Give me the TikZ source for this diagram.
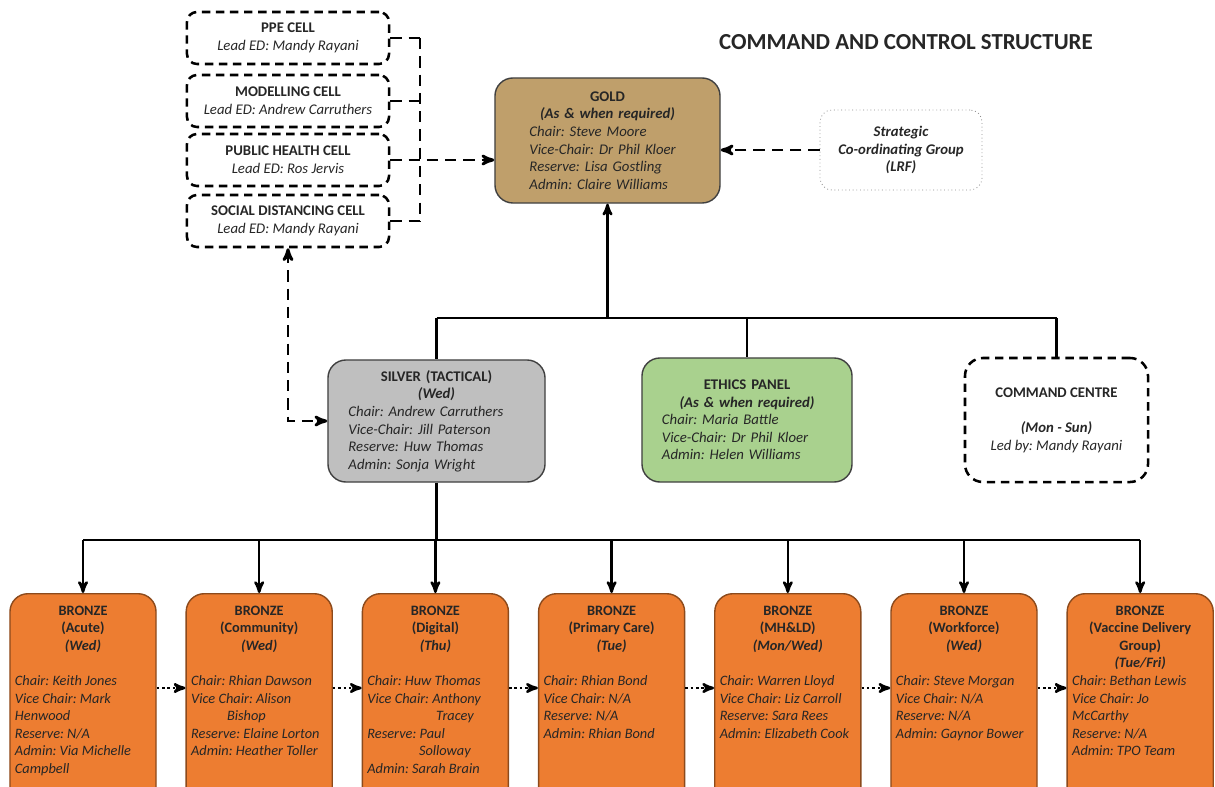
\documentclass[tikz,border=0pt]{standalone}
\usepackage{fontspec}
\setmainfont{Carlito}
\usepackage{xcolor}
\usetikzlibrary{arrows,positioning,calc}
\frenchspacing
\definecolor{goldfill}{HTML}{BF9F6B}
\definecolor{silverfill}{HTML}{BFBFBF}
\definecolor{ethicsfill}{HTML}{A9D18E}
\definecolor{bronzefill}{HTML}{ED7D31}
\definecolor{bronzeline}{HTML}{8C4A1C}
\definecolor{boxtext}{HTML}{262626}
\tikzset{box/.style={draw=black!75,line width=1pt,rounded corners=0.45cm,text=boxtext,font=\fontsize{10.5}{12.5}\selectfont}}
\newcommand{\bronzetext}[2]{\parbox[t][5.2cm][t]{3.4cm}{\centering\bfseries #1\par\raggedright\mdseries\itshape #2}}

\begin{document}
\begin{tikzpicture}[-, >=stealth', semithick, x=0.025cm, y=-0.025cm]
    \tikzstyle{cell}=[draw=black, line width=1.8pt, dash pattern=on 6pt off 4pt, rounded corners=0.25cm, minimum width=5.05cm, minimum height=1.3cm, align=center, text=boxtext, font=\fontsize{10.5}{12.5}\selectfont]
    \tikzstyle{conn}=[line width=1.8pt]
    \tikzstyle{dashconn}=[line width=2pt, dash pattern=on 8pt off 5pt]
    \tikzstyle{dotconn}=[line width=1.8pt, dash pattern=on 1.8pt off 2pt]
    \tikzstyle{bronze}=[box, fill=bronzefill, draw=bronzeline, anchor=north, inner xsep=0.125cm, inner ysep=0.3cm, font=\fontsize{10.2}{12.5}\selectfont]
    \clip (0,0) rectangle (1215,787);
    \node[text=boxtext, font=\fontsize{16.3}{19}\selectfont\bfseries] (title) at (906,42) {COMMAND AND CONTROL STRUCTURE};

    % cells
    \node[cell] (ppe) at (288,38) {\textbf{PPE CELL}\\\textit{Lead ED: Mandy Rayani}};
    \node[cell] (model) at (288,101) {\textbf{MODELLING CELL}\\\textit{Lead ED: Andrew Carruthers}};
    \node[cell] (pubhealth) at (288,160) {\textbf{PUBLIC HEALTH CELL}\\\textit{Lead ED: Ros Jervis}};
    \node[cell] (socdist) at (288,221) {\textbf{SOCIAL DISTANCING CELL}\\\textit{Lead ED: Mandy Rayani}};
    \coordinate (cellbus) at (420,0);

    \node[box, fill=goldfill, minimum width=5.625cm, minimum height=3.125cm, text width=3.9cm] (gold) at (607.5,140.5) {\centering\bfseries GOLD\\\textit{(As \& when required)}\par\raggedright\mdseries\itshape Chair: Steve Moore\\Vice-Chair: Dr Phil Kloer\\Reserve: Lisa Gostling\\Admin: Claire Williams};
    \node[draw=black!45, dotted, rounded corners=0.3cm, minimum width=4.05cm, minimum height=2cm, align=center, text=boxtext, font=\fontsize{10.5}{12.5}\selectfont\bfseries\itshape] (scg) at (901,150) {Strategic\\Co-ordinating Group\\(LRF)};

    \node[box, fill=silverfill, minimum width=5.425cm, minimum height=3.05cm, text width=4.4cm] (silver) at (436.5,421) {\centering\bfseries SILVER (TACTICAL)\\\textit{(Wed)}\par\raggedright\mdseries\itshape Chair: Andrew Carruthers\\Vice-Chair: Jill Paterson\\Reserve: Huw Thomas\\Admin: Sonja Wright};
    \node[box, fill=ethicsfill, minimum width=5.25cm, minimum height=3.1cm, text width=4.25cm] (ethics) at (747,420) {\centering\bfseries ETHICS PANEL\\\textit{(As \& when required)}\par\raggedright\mdseries\itshape Chair: Maria Battle\\Vice-Chair: Dr Phil Kloer\\Admin: Helen Williams};
    \node[draw=black, line width=1.8pt, dash pattern=on 6pt off 4pt, rounded corners=0.45cm, minimum width=4.575cm, minimum height=3.1cm, align=center, text=boxtext, font=\fontsize{10.5}{12.5}\selectfont] (cmdcentre) at (1056.5,420) {\textbf{COMMAND CENTRE}\\[12.5pt]\textbf{\textit{(Mon - Sun)}}\\\textit{Led by: Mandy Rayani}};
    \coordinate (topbus) at (607.5,318);

    % bronze groups
    \node[bronze] (acute) at (83,593) {\bronzetext{BRONZE\\(Acute)\\\textit{(Wed)}\\\strut}{Chair: Keith Jones\\Vice Chair: Mark\\Henwood\\Reserve: N/A\\Admin: Via Michelle\\Campbell}};
    \node[bronze] (community) at (259.2,593) {\bronzetext{BRONZE\\(Community)\\\textit{(Wed)}\\\strut}{Chair: Rhian Dawson\\Vice Chair: Alison\\\hspace*{2.5em}Bishop\\Reserve: Elaine Lorton\\Admin: Heather Toller}};
    \node[bronze] (digital) at (435.4,593) {\bronzetext{BRONZE\\(Digital)\\\textit{(Thu)}\\\strut}{Chair: Huw Thomas\\Vice Chair: Anthony\\\hspace*{4.8em}Tracey\\Reserve: Paul\\\hspace*{3.6em}Solloway\\Admin: Sarah Brain}};
    \node[bronze] (primary) at (611.6,593) {\bronzetext{BRONZE\\(Primary Care)\\\textit{(Tue)}\\\strut}{Chair: Rhian Bond\\Vice Chair: N/A\\Reserve: N/A\\Admin: Rhian Bond}};
    \node[bronze] (mhld) at (787.8,593) {\bronzetext{BRONZE\\(MH\&LD)\\\textit{(Mon/Wed)}\\\strut}{Chair: Warren Lloyd\\Vice Chair: Liz Carroll\\Reserve: Sara Rees\\Admin: Elizabeth Cook}};
    \node[bronze] (workforce) at (964,593) {\bronzetext{BRONZE\\(Workforce)\\\textit{(Wed)}\\\strut}{Chair: Steve Morgan\\Vice Chair: N/A\\Reserve: N/A\\Admin: Gaynor Bower}};
    \node[bronze] (vaccine) at (1140.2,593) {\bronzetext{BRONZE\\(Vaccine Delivery\\Group)\\\textit{(Tue/Fri)}}{Chair: Bethan Lewis\\Vice Chair: Jo\\McCarthy\\Reserve: N/A\\Admin: TPO Team}};
    \coordinate (lowbus) at (436.5,540);
    \coordinate (dotrow) at (0,688);

    % cell links
    \draw[dashconn] (ppe.east) -- (ppe.east -| cellbus);
    \draw[dashconn] (model.east) -- (model.east -| cellbus);
    \draw[dashconn] (socdist.east) -- (socdist.east -| cellbus);
    \draw[dashconn] (ppe.east -| cellbus) -- (socdist.east -| cellbus);
    \draw[dashconn,->] (pubhealth.east) -- (gold.west |- pubhealth.east);
    \draw[dashconn,<->] (socdist.south) |- (silver.west);
    \draw[dashconn,->] (scg.west) -- (gold.east |- scg.west);

    % command lines
    \draw[conn,->] (topbus) -- (gold.south);
    \draw[conn] (silver.north |- topbus) -- (cmdcentre.north |- topbus);
    \draw[conn] (silver.north |- topbus) -- (silver.north);
    \draw[conn] (ethics.north |- topbus) -- (ethics.north);
    \draw[conn] (cmdcentre.north |- topbus) -- (cmdcentre.north);
    \draw[conn] (silver.south) -- (lowbus);
    \draw[conn] (acute.north |- lowbus) -- (vaccine.north |- lowbus);
    \draw[conn,->] (acute.north |- lowbus) -- (acute.north);
    \draw[conn,->] (community.north |- lowbus) -- (community.north);
    \draw[conn,->] (digital.north |- lowbus) -- (digital.north);
    \draw[conn,->] (primary.north |- lowbus) -- (primary.north);
    \draw[conn,->] (mhld.north |- lowbus) -- (mhld.north);
    \draw[conn,->] (workforce.north |- lowbus) -- (workforce.north);
    \draw[conn,->] (vaccine.north |- lowbus) -- (vaccine.north);

    % bronze handovers
    \draw[dotconn,->] (acute.east |- dotrow) -- (community.west |- dotrow);
    \draw[dotconn,->] (community.east |- dotrow) -- (digital.west |- dotrow);
    \draw[dotconn,->] (digital.east |- dotrow) -- (primary.west |- dotrow);
    \draw[dotconn,->] (primary.east |- dotrow) -- (mhld.west |- dotrow);
    \draw[dotconn,->] (mhld.east |- dotrow) -- (workforce.west |- dotrow);
    \draw[dotconn,->] (workforce.east |- dotrow) -- (vaccine.west |- dotrow);
\end{tikzpicture}
\end{document}
